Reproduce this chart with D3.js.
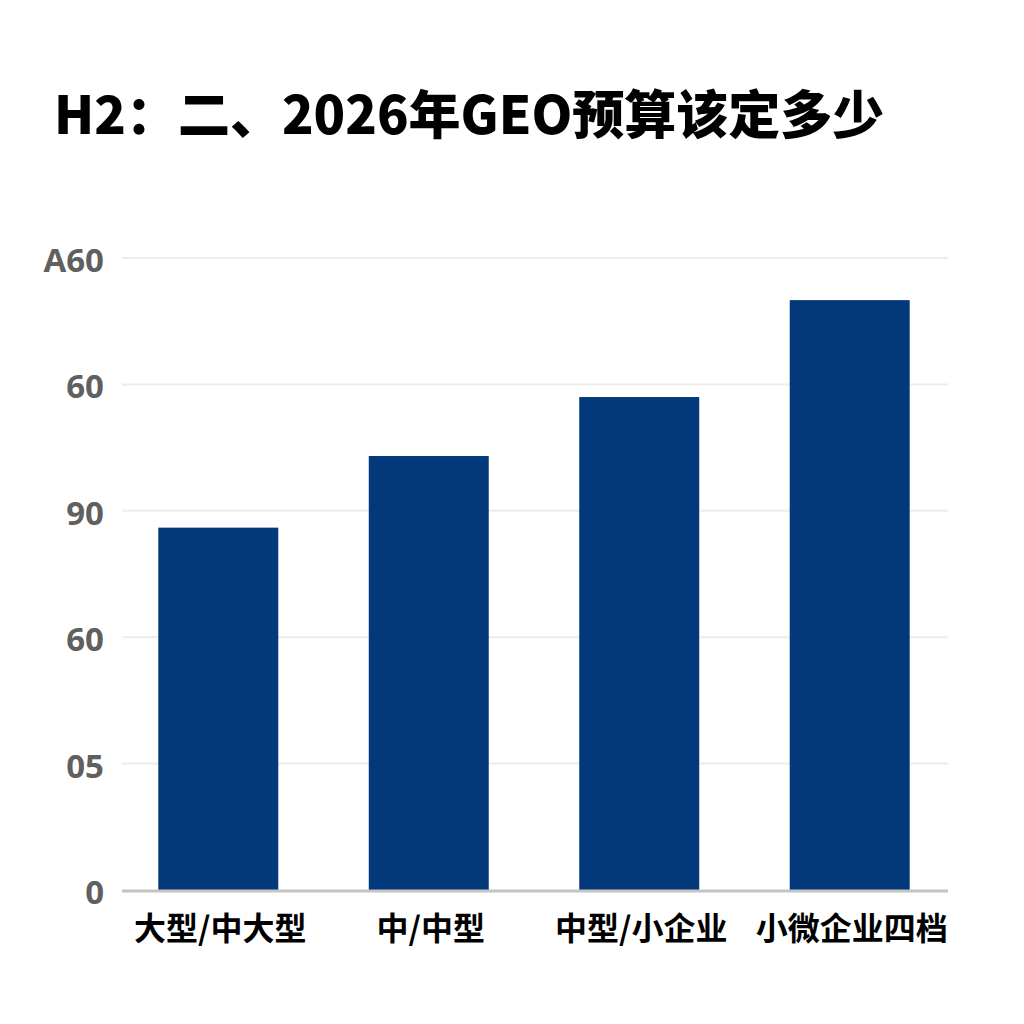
<!DOCTYPE html>
<html>
<head>
<meta charset="utf-8">
<script src="https://cdn.jsdelivr.net/npm/d3@7"></script>
<style>
  html, body { margin: 0; padding: 0; background: #fff; }
  svg { display: block; }
</style>
</head>
<body>
<div id="chart"></div>
<script>
// chart data
const categories = ["大型/中大型", "中/中型", "中型/小企业", "小微企业四档"];
const values = [86, 103, 117, 140];
const tickValues = [0, 30, 60, 90, 120, 150];
const tickLabels = ["0", "05", "60", "90", "60", "A60"];
const title = "H2：二、2026年GEO预算该定多少";

const W = 1024, H = 1024;
const svg = d3.select("#chart").append("svg")
    .attr("width", W)
    .attr("height", H);

svg.append("rect").attr("width", W).attr("height", H).attr("fill", "#fff");

// title
svg.append("text")
    .attr("x", 54)
    .attr("y", 134)
    .attr("font-family", "'Noto Sans CJK SC', 'Noto Sans', sans-serif")
    .attr("font-weight", 900)
    .attr("font-size", 52)
    .attr("fill", "#000")
    .text(title);

const x = d3.scaleBand()
    .domain(categories)
    .range([112, 956])
    .paddingInner(0.43)
    .paddingOuter(0.22);

const y = d3.scaleLinear()
    .domain([0, 150])
    .range([890, 258]);

// gridlines
svg.append("g")
    .selectAll("line")
    .data(tickValues.slice(1))
    .join("line")
    .attr("x1", 122)
    .attr("x2", 948)
    .attr("y1", d => y(d))
    .attr("y2", d => y(d))
    .attr("stroke", "#ececec")
    .attr("stroke-width", 2);

// y axis labels
const yAxis = svg.append("g")
    .attr("transform", "translate(104,3)")
    .call(d3.axisLeft(y).tickValues(tickValues)
        .tickFormat((d, i) => tickLabels[i])
        .tickSize(0).tickPadding(0));
yAxis.select(".domain").remove();
yAxis.selectAll("text")
    .attr("font-family", "'Open Sans', 'Noto Sans', sans-serif")
    .attr("font-weight", 700)
    .attr("font-size", 33)
    .attr("fill", "#606060");

// bars
svg.append("g")
    .selectAll("rect")
    .data(values)
    .join("rect")
    .attr("x", (d, i) => x(categories[i]))
    .attr("width", x.bandwidth())
    .attr("y", d => y(d))
    .attr("height", d => y(0) - y(d))
    .attr("fill", "#03387a");

// baseline
svg.append("line")
    .attr("x1", 122)
    .attr("x2", 948)
    .attr("y1", y(0) + 1)
    .attr("y2", y(0) + 1)
    .attr("stroke", "#c4c4c4")
    .attr("stroke-width", 3);

// x labels
const xAxis = svg.append("g")
    .attr("transform", "translate(2,917)")
    .call(d3.axisBottom(x).tickSize(0).tickPadding(0));
xAxis.select(".domain").remove();
xAxis.selectAll("text")
    .attr("font-family", "'Noto Sans CJK SC', sans-serif")
    .attr("font-weight", 700)
    .attr("font-size", 32)
    .attr("fill", "#000");
</script>
</body>
</html>
